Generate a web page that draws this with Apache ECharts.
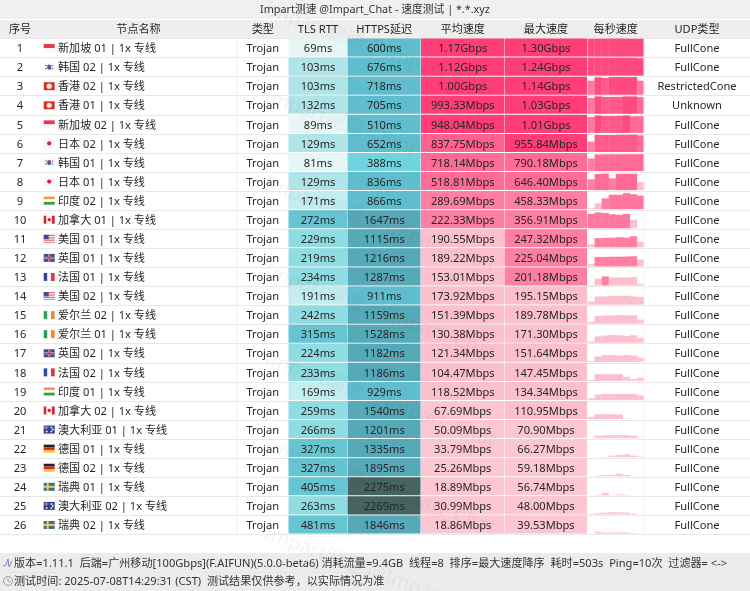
<!DOCTYPE html>
<html>
<head>
<meta charset="utf-8">
<title>Impart测速</title>
<style>html,body{margin:0;padding:0;background:#fff}#main{width:750px;height:591px}</style>
<script src="https://cdn.jsdelivr.net/npm/echarts@6/dist/echarts.min.js"></script>
</head>
<body>
<div id="main"></div>
<script>
// 表格数据
var titleText = 'Impart测速 @Impart_Chat - 速度测试 | *.*.xyz';
var headers = ['序号', '节点名称', '类型', 'TLS RTT', 'HTTPS延迟', '平均速度', '最大速度', '每秒速度', 'UDP类型'];
var nodeNames = ['新加坡 01 | 1x 专线', '韩国 02 | 1x 专线', '香港 02 | 1x 专线', '香港 01 | 1x 专线', '新加坡 02 | 1x 专线',
    '日本 02 | 1x 专线', '韩国 01 | 1x 专线', '日本 01 | 1x 专线', '印度 02 | 1x 专线', '加拿大 01 | 1x 专线',
    '美国 01 | 1x 专线', '英国 01 | 1x 专线', '法国 01 | 1x 专线', '美国 02 | 1x 专线', '爱尔兰 02 | 1x 专线',
    '爱尔兰 01 | 1x 专线', '英国 02 | 1x 专线', '法国 02 | 1x 专线', '印度 01 | 1x 专线', '加拿大 02 | 1x 专线',
    '澳大利亚 01 | 1x 专线', '德国 01 | 1x 专线', '德国 02 | 1x 专线', '瑞典 01 | 1x 专线', '澳大利亚 02 | 1x 专线', '瑞典 02 | 1x 专线'];
var flags = ['SG', 'KR', 'HK', 'HK', 'SG', 'JP', 'KR', 'JP', 'IN', 'CA', 'US', 'GB', 'FR', 'US', 'IE', 'IE', 'GB', 'FR', 'IN', 'CA', 'AU', 'DE', 'DE', 'SE', 'AU', 'SE'];
var tlsRtt = [69, 103, 103, 132, 89, 129, 81, 129, 171, 272, 229, 219, 234, 191, 242, 315, 224, 233, 169, 259, 266, 327, 327, 405, 263, 481];
var httpsDelay = [600, 676, 718, 705, 510, 652, 388, 836, 866, 1647, 1115, 1216, 1287, 911, 1159, 1528, 1182, 1186, 929, 1540, 1201, 1335, 1895, 2275, 2269, 1846];
var avgSpeed = [1170, 1120, 1000, 993.33, 948.04, 837.75, 718.14, 518.81, 289.69, 222.33, 190.55, 189.22, 153.01, 173.92, 151.39, 130.38, 121.34, 104.47, 118.52, 67.69, 50.09, 33.79, 25.26, 18.89, 30.99, 18.86];
var maxSpeed = [1300, 1240, 1140, 1030, 1010, 955.84, 790.18, 646.40, 458.33, 356.91, 247.32, 225.04, 201.18, 195.15, 189.78, 171.30, 151.64, 147.45, 134.34, 110.95, 70.90, 66.27, 59.18, 56.74, 48.00, 39.53];
var udpTypes = ['FullCone', 'FullCone', 'RestrictedCone', 'Unknown'];
// 每秒速度 Mbps, 从图上估的
var perSecond = [
    [1200, 1230, 1250, 1260, 1300, 1230, 1200, 1200],
    [1230, 1240, 1220, 1190, 1230, 1240, 1210, 1050],
    [310, 1050, 800, 1100, 1140, 1090, 1140, 310],
    [380, 1030, 800, 800, 850, 1030, 1030, 700],
    [400, 1000, 800, 800, 850, 1010, 700, 700],
    [230, 820, 820, 840, 880, 940, 955, 700],
    [280, 700, 720, 730, 740, 760, 790, 760],
    [240, 500, 646, 260, 540, 600, 600, 180],
    [20, 130, 240, 320, 320, 458, 330, 300],
    [320, 356, 340, 310, 300, 320, 190, 0],
    [70, 205, 210, 215, 225, 215, 247, 120],
    [60, 210, 210, 215, 215, 220, 225, 150],
    [10, 150, 201, 180, 180, 180, 190, 40],
    [70, 180, 180, 195, 195, 195, 180, 170],
    [40, 170, 180, 185, 189, 185, 189, 90],
    [30, 140, 160, 170, 165, 150, 165, 100],
    [20, 120, 150, 151, 140, 151, 140, 90],
    [20, 147, 147, 147, 147, 90, 40, 70],
    [40, 120, 134, 134, 134, 134, 134, 100],
    [50, 105, 110, 105, 100, 10, 0, 0],
    [5, 55, 65, 70, 70, 70, 55, 10],
    [0, 0, 5, 35, 50, 66, 35, 15],
    [3, 15, 25, 30, 59, 30, 5, 0],
    [0, 10, 56, 0, 25, 10, 0, 0],
    [10, 30, 40, 48, 48, 40, 20, 0],
    [0, 39, 25, 25, 25, 25, 10, 0]
];
var footerLine1 = '版本=1.11.1  后端=广州移动[100Gbps](F.AIFUN)(5.0.0-beta6) 消耗流量=9.4GB  线程=8  排序=最大速度降序  耗时=503s  Ping=10次  过滤器= <->';
var footerLine2 = '测试时间: 2025-07-08T14:29:31 (CST)  测试结果仅供参考，以实际情况为准';
var watermark = 'Impart测速 @Impart_Chat';

var rowNames = nodeNames.map(function (n, i) { return String(i + 1); });

// 列边界(x轴就是像素宽度)
var colEdges = [0, 40, 237, 288.5, 347.5, 421, 504.5, 587.5, 644, 750];
var FONT = '11.1px "Noto Sans", "Noto Sans CJK SC", sans-serif';
var TEXT_COLOR = '#262626';
var TEXT_SHIFT = 1; // 文字比行中心略低

var flagShapes = {
    SG: [['#e8384f', 0, 0, 11, 4], ['#f7f7f7', 0, 4, 11, 4]],
    KR: [['#f7f7f7', 0, 0, 11, 8], ['#d8344c', 5.5, 3.4, 2], ['#3a5fa8', 5.5, 4.6, 2], ['#555', 1.5, 2, 1.5, 1], ['#555', 8, 2, 1.5, 1], ['#555', 1.5, 5, 1.5, 1], ['#555', 8, 5, 1.5, 1]],
    HK: [['#d9322c', 0, 0, 11, 8], ['#fbe6e2', 5.5, 4, 2.6]],
    JP: [['#f5f5f5', 0, 0, 11, 8], ['#d81e44', 5.5, 4, 2.1]],
    IN: [['#f59a3c', 0, 0, 11, 2.7], ['#f7f7f7', 0, 2.7, 11, 2.6], ['#3d9a3d', 0, 5.3, 11, 2.7]],
    CA: [['#d9232e', 0, 0, 2.8, 8], ['#f7f7f7', 2.8, 0, 5.4, 8], ['#d9232e', 8.2, 0, 2.8, 8], ['#d9232e', 5.5, 4, 1.7]],
    US: [['#e36a74', 0, 0, 11, 8], ['#f7f7f7', 0, 1.2, 11, 1.2], ['#f7f7f7', 0, 3.6, 11, 1.2], ['#f7f7f7', 0, 6, 11, 1.2], ['#3c4f8f', 0, 0, 5, 4.4]],
    GB: [['#3a4f96', 0, 0, 11, 8], ['#f2d8dc', 0, 3, 11, 2], ['#f2d8dc', 4.5, 0, 2, 8], ['#d8283c', 0, 3.4, 11, 1.2], ['#d8283c', 4.9, 0, 1.2, 8]],
    FR: [['#30479c', 0, 0, 3.7, 8], ['#f7f7f7', 3.7, 0, 3.6, 8], ['#e23544', 7.3, 0, 3.7, 8]],
    IE: [['#2f9e5c', 0, 0, 3.7, 8], ['#f7f7f7', 3.7, 0, 3.6, 8], ['#f08a35', 7.3, 0, 3.7, 8]],
    AU: [['#2a3f8f', 0, 0, 11, 8], ['#d98a98', 0, 1.6, 5, 1], ['#d98a98', 2, 0, 1, 4], ['#e8e8f2', 7.8, 2, 1], ['#e8e8f2', 9.2, 4, 1], ['#e8e8f2', 7.6, 6, 1], ['#e8e8f2', 3, 6, 1]],
    DE: [['#222', 0, 0, 11, 2.7], ['#d8232a', 0, 2.7, 11, 2.6], ['#f4c430', 0, 5.3, 11, 2.7]],
    SE: [['#2f6fa8', 0, 0, 11, 8], ['#f6cf3a', 0, 3, 11, 2], ['#f6cf3a', 3, 0, 2, 8]]
};

function tlsColor(v) {
    if (v < 100) return '#e6f6f4';
    if (v < 165) return '#afe5e9';
    if (v < 200) return '#c3edef';
    if (v < 270) return '#8fdce3';
    return '#66c5d3';
}
function httpsColor(v) {
    if (v < 500) return '#70d4de';
    if (v < 1000) return '#5fbdcd';
    if (v < 2000) return '#56a9b8';
    return '#456361';
}
function speedColor(v) {
    if (v >= 940) return '#ff3e77';
    if (v >= 800) return '#ff628e';
    if (v >= 500) return '#ff6d96';
    if (v >= 200) return '#ff7fa2';
    if (v >= 100) return '#fbbfce';
    return '#fcc6d3';
}
// 每秒速度的柱子比单元格淡一点
function barColor(v) {
    if (v >= 1000) return '#ff4a7f';
    if (v >= 800) return '#ff5a89';
    if (v >= 500) return '#ff6b95';
    if (v >= 300) return '#ff76a0';
    return speedColor(v);
}
function speedText(v) {
    return v >= 1000 ? (v / 1000).toFixed(2) + 'Gbps' : v.toFixed(2) + 'Mbps';
}
// 柱高: 低速段线性，高于350后压缩
function barRatio(v) {
    return v <= 350 ? v / 400 : Math.min(0.875 + (v - 350) / 950 * 0.125, 1);
}

function cellText(text, x, y, fill) {
    return {type: 'text', silent: true, z2: 5, style: {text: text, x: x, y: y, font: FONT, fill: fill || TEXT_COLOR, align: 'center', verticalAlign: 'middle'}};
}

// 一列: 背景色 + 居中文字
function columnSeries(col, values, colorFn, textFn) {
    var left = colEdges[col], right = colEdges[col + 1];
    return {
        name: headers[col],
        type: 'custom',
        silent: true,
        data: values.map(function (v, i) { return [left, i, v]; }),
        encode: {x: 0, y: 1},
        renderItem: function (params, api) {
            var row = api.value(1), v = api.value(2);
            var p0 = api.coord([left, row]), p1 = api.coord([right, row]);
            var h = api.size([0, 1])[1];
            var children = [];
            if (colorFn) {
                children.push({type: 'rect', shape: {x: p0[0], y: p0[1] - h / 2, width: p1[0] - p0[0] - 0.5, height: h - 1}, style: {fill: colorFn(v)}});
            } else if (col === 2 || col === 8) {
                children.push({type: 'line', shape: {x1: p0[0], y1: p0[1] - h / 2, x2: p0[0], y2: p0[1] + h / 2}, style: {stroke: '#f2f2f2', lineWidth: 1}});
            }
            children.push(cellText(textFn(v, row), (p0[0] + p1[0]) / 2, p0[1] + TEXT_SHIFT));
            return {type: 'group', children: children};
        }
    };
}

var series = [];
series.push(columnSeries(0, rowNames.map(Number), null, function (v) { return String(v); }));

// 节点名称 + 旗帜
series.push({
    name: headers[1],
    type: 'custom',
    silent: true,
    data: nodeNames.map(function (n, i) { return [colEdges[1], i]; }),
    encode: {x: 0, y: 1},
    renderItem: function (params, api) {
        var row = api.value(1);
        var p = api.coord([colEdges[1], row]);
        var fx = p[0] + 3.7, fy = p[1] - 4;
        var children = flagShapes[flags[row]].map(function (s) {
            if (s.length === 5) {
                return {type: 'rect', shape: {x: fx + s[1], y: fy + s[2], width: s[3], height: s[4]}, style: {fill: s[0]}};
            }
            return {type: 'circle', shape: {cx: fx + s[1], cy: fy + s[2], r: s[3]}, style: {fill: s[0]}};
        });
        children.push({type: 'text', silent: true, z2: 5, style: {text: nodeNames[row], x: p[0] + 18, y: p[1] + TEXT_SHIFT, font: FONT, fill: TEXT_COLOR, align: 'left', verticalAlign: 'middle'}});
        return {type: 'group', children: children};
    }
});

series.push(columnSeries(2, nodeNames.map(function () { return 0; }), null, function () { return 'Trojan'; }));
series.push(columnSeries(3, tlsRtt, tlsColor, function (v) { return v + 'ms'; }));
series.push(columnSeries(4, httpsDelay, httpsColor, function (v) { return v + 'ms'; }));
series.push(columnSeries(5, avgSpeed, speedColor, speedText));
series.push(columnSeries(6, maxSpeed, speedColor, speedText));

// 每秒速度小柱
var barData = [];
perSecond.forEach(function (vals, row) {
    vals.forEach(function (v, k) { barData.push([colEdges[7] + k * (colEdges[8] - colEdges[7]) / 8, row, v]); });
});
series.push({
    name: headers[7],
    type: 'custom',
    silent: true,
    data: barData,
    encode: {x: 0, y: 1},
    renderItem: function (params, api) {
        var x = api.value(0), row = api.value(1), v = api.value(2);
        var p = api.coord([x, row]);
        var w = api.size([(colEdges[8] - colEdges[7]) / 8, 0])[0];
        var h = api.size([0, 1])[1] - 1;
        var bh = h * barRatio(v);
        return {type: 'rect', shape: {x: p[0], y: p[1] - h / 2 - 0.5 + h - bh, width: w + 0.2, height: bh}, style: {fill: barColor(v)}};
    }
});

series.push(columnSeries(8, nodeNames.map(function (n, i) { return i; }), null, function (v) { return udpTypes[v] || 'FullCone'; }));

// 固定部分: 标题栏/表头/底栏/水印
var graphic = [
    {type: 'rect', z: 0, silent: true, shape: {x: 0, y: 0, width: 750, height: 19}, style: {fill: '#f0f0f0'}},
    {type: 'rect', z: 0, silent: true, shape: {x: 0, y: 20, width: 750, height: 18.5}, style: {fill: '#eeeeee'}},
    {type: 'rect', z: 0, silent: true, shape: {x: 0, y: 553, width: 750, height: 38}, style: {fill: '#ececec'}},
    {type: 'line', z: 1, silent: true, shape: {x1: 0, y1: 572.5, x2: 750, y2: 572.5}, style: {stroke: '#e6e6e6', lineWidth: 1}},
    {type: 'text', z: 5, silent: true, style: {text: footerLine1, x: 14, y: 563.5, font: FONT, fill: '#333', align: 'left', verticalAlign: 'middle'}},
    {type: 'text', z: 5, silent: true, style: {text: footerLine2, x: 14, y: 582, font: FONT, fill: '#333', align: 'left', verticalAlign: 'middle'}},
    // 两个小图标
    {type: 'polyline', z: 5, silent: true, shape: {points: [[3, 566], [6, 565], [8, 559], [9, 567], [12, 561]]}, style: {stroke: '#7a86c8', fill: 'none', lineWidth: 1}},
    {type: 'circle', z: 5, silent: true, shape: {cx: 8, cy: 581, r: 4.5}, style: {stroke: '#999', fill: 'none', lineWidth: 1}},
    {type: 'polyline', z: 5, silent: true, shape: {points: [[8, 578], [8, 581], [10.5, 582]]}, style: {stroke: '#999', fill: 'none', lineWidth: 1}}
];
headers.forEach(function (h, i) {
    graphic.push({type: 'text', z: 5, silent: true, style: {text: h, x: (colEdges[i] + colEdges[i + 1]) / 2, y: 30, font: FONT, fill: TEXT_COLOR, align: 'center', verticalAlign: 'middle'}});
});
// 水印只在中间一列，从上到下7条
for (var wy = 8; wy < 600; wy += 87.5) {
    graphic.push({type: 'text', z: 100, silent: true, x: 265, y: wy, rotation: -20 * Math.PI / 180,
        style: {text: watermark, x: 0, y: 0, font: '20px "Noto Sans", "Noto Sans CJK SC", sans-serif', fill: 'rgba(70,70,70,0.06)', align: 'left', verticalAlign: 'middle'}});
}

var myChart = echarts.init(document.getElementById('main'));
myChart.setOption({
    animation: false,
    backgroundColor: '#fff',
    title: {
        text: titleText,
        left: 'center',
        top: 0,
        textStyle: {fontSize: 10.8, fontWeight: 'normal', color: '#333', fontFamily: '"Noto Sans", "Noto Sans CJK SC", sans-serif'}
    },
    tooltip: {show: false},
    grid: {left: 0, right: 0, top: 38.5, height: 496},
    xAxis: {type: 'value', min: 0, max: 750, show: false},
    yAxis: {
        type: 'category',
        inverse: true,
        data: rowNames,
        axisLine: {show: false},
        axisTick: {show: false},
        axisLabel: {show: false},
        splitLine: {show: true, lineStyle: {color: '#e8e8e8', width: 1}}
    },
    graphic: graphic,
    series: series
});
</script>
</body>
</html>
